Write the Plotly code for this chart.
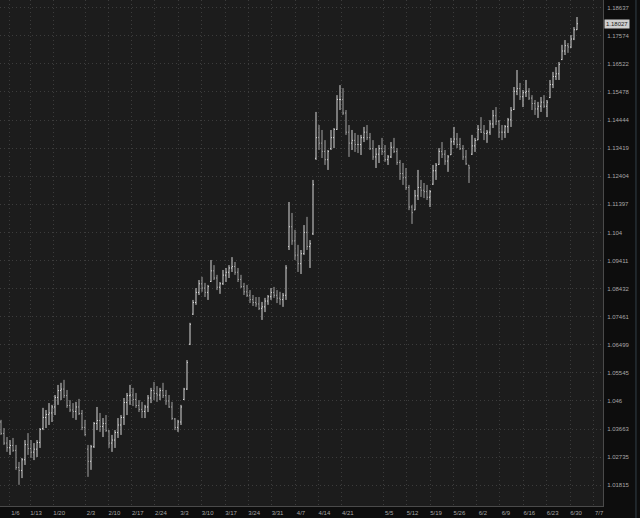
import math
import plotly.graph_objects as go

# ---- data (EUR/USD style OHLC bars) ----
opens = [1.0390,1.0352,1.0320,1.0305,1.0312,1.0296,1.0240,1.0230,1.0265,1.0315,
         1.0302,1.0290,1.0300,1.0322,1.0368,1.0405,1.0415,1.0420,1.0440,1.0472,
         1.0495,1.0500,1.0478,1.0445,1.0430,1.0425,1.0440,1.0418,1.0372,1.0300,
         1.0260,1.0308,1.0385,1.0395,1.0375,1.0385,1.0360,1.0320,1.0330,1.0355,
         1.0380,1.0405,1.0455,1.0478,1.0480,1.0465,1.0445,1.0432,1.0425,1.0440,
         1.0470,1.0495,1.0485,1.0480,1.0495,1.0478,1.0460,1.0440,1.0400,1.0372,
         1.0390,1.0465,1.0500,1.0652,1.0755,1.0795,1.0830,1.0860,1.0845,1.0830,
         1.0868,1.0905,1.0880,1.0848,1.0860,1.0890,1.0900,1.0915,1.0920,1.0900,
         1.0875,1.0850,1.0832,1.0820,1.0805,1.0795,1.0790,1.0775,1.0780,1.0800,
         1.0815,1.0830,1.0820,1.0810,1.0805,1.0820,1.0990,1.1060,1.1010,1.0960,
         1.0930,1.0965,1.1040,1.0990,1.1035,1.1305,1.1380,1.1360,1.1330,1.1300,
         1.1340,1.1380,1.1410,1.1520,1.1520,1.1470,1.1400,1.1360,1.1370,1.1355,
         1.1355,1.1380,1.1400,1.1380,1.1340,1.1310,1.1320,1.1340,1.1330,1.1300,
         1.1310,1.1345,1.1330,1.1290,1.1250,1.1235,1.1200,1.1130,1.1120,1.1170,
         1.1200,1.1190,1.1185,1.1165,1.1212,1.1260,1.1283,1.1330,1.1320,1.1295,
         1.1318,1.1365,1.1375,1.1355,1.1340,1.1310,1.1280,1.1320,1.1350,1.1372,
         1.1410,1.1400,1.1395,1.1400,1.1430,1.1460,1.1440,1.1400,1.1400,1.1420,
         1.1445,1.1483,1.1550,1.1560,1.1530,1.1545,1.1550,1.1525,1.1505,1.1485,
         1.1495,1.1510,1.1495,1.1527,1.1575,1.1605,1.1615,1.1668,1.1700,1.1720,
         1.1715,1.1745,1.1780]

highs = [1.0397,1.0370,1.0340,1.0330,1.0337,1.0314,1.0258,1.0271,1.0330,1.0353,
         1.0330,1.0320,1.0330,1.0370,1.0437,1.0430,1.0453,1.0447,1.0480,1.0514,
         1.0521,1.0531,1.0497,1.0463,1.0453,1.0457,1.0467,1.0430,1.0397,1.0314,
         1.0314,1.0390,1.0440,1.0420,1.0403,1.0413,1.0363,1.0347,1.0363,1.0403,
         1.0413,1.0470,1.0487,1.0514,1.0504,1.0487,1.0463,1.0457,1.0447,1.0480,
         1.0504,1.0524,1.0510,1.0504,1.0521,1.0497,1.0480,1.0457,1.0403,1.0397,
         1.0447,1.0504,1.0598,1.0725,1.0804,1.0845,1.0873,1.0884,1.0863,1.0856,
         1.0943,1.0925,1.0891,1.0866,1.0908,1.0915,1.0925,1.0953,1.0936,1.0915,
         1.0891,1.0863,1.0856,1.0838,1.0821,1.0814,1.0814,1.0797,1.0811,1.0821,
         1.0845,1.0849,1.0838,1.0832,1.0828,1.0925,1.1148,1.1109,1.1049,1.0996,
         1.0978,1.1066,1.1095,1.1013,1.1227,1.1474,1.1426,1.1408,1.1371,1.1335,
         1.1408,1.1415,1.1536,1.1573,1.1562,1.1481,1.1426,1.1408,1.1397,1.1390,
         1.1390,1.1419,1.1426,1.1397,1.1371,1.1342,1.1353,1.1379,1.1353,1.1317,
         1.1364,1.1379,1.1342,1.1299,1.1288,1.1270,1.1209,1.1137,1.1191,1.1263,
         1.1227,1.1216,1.1209,1.1191,1.1281,1.1288,1.1342,1.1364,1.1335,1.1317,
         1.1379,1.1419,1.1397,1.1379,1.1353,1.1335,1.1281,1.1390,1.1379,1.1426,
         1.1455,1.1426,1.1408,1.1444,1.1481,1.1492,1.1444,1.1426,1.1426,1.1452,
         1.1492,1.1566,1.1629,1.1581,1.1555,1.1592,1.1562,1.1536,1.1518,1.1511,
         1.1529,1.1536,1.1518,1.1592,1.1622,1.1640,1.1659,1.1723,1.1741,1.1730,
         1.1760,1.1790,1.1828]

lows = [1.0347,1.0314,1.0291,1.0281,1.0291,1.0232,1.0183,1.0205,1.0248,1.0281,
        1.0271,1.0264,1.0274,1.0304,1.0363,1.0370,1.0380,1.0390,1.0413,1.0447,
        1.0463,1.0470,1.0437,1.0423,1.0403,1.0397,1.0413,1.0363,1.0344,1.0209,
        1.0232,1.0304,1.0363,1.0357,1.0340,1.0357,1.0304,1.0291,1.0304,1.0337,
        1.0347,1.0380,1.0413,1.0447,1.0443,1.0437,1.0423,1.0403,1.0403,1.0423,
        1.0453,1.0463,1.0457,1.0463,1.0470,1.0447,1.0437,1.0397,1.0363,1.0357,
        1.0380,1.0463,1.0497,1.0649,1.0752,1.0787,1.0821,1.0832,1.0814,1.0804,
        1.0866,1.0873,1.0838,1.0825,1.0856,1.0866,1.0880,1.0901,1.0891,1.0866,
        1.0845,1.0821,1.0814,1.0793,1.0783,1.0780,1.0769,1.0735,1.0762,1.0787,
        1.0804,1.0811,1.0793,1.0787,1.0780,1.0804,1.0978,1.0996,1.0943,1.0901,
        1.0894,1.0961,1.0978,1.0915,1.1031,1.1299,1.1335,1.1306,1.1281,1.1263,
        1.1335,1.1342,1.1408,1.1481,1.1463,1.1390,1.1310,1.1335,1.1328,1.1324,
        1.1317,1.1364,1.1371,1.1335,1.1299,1.1270,1.1288,1.1317,1.1292,1.1281,
        1.1306,1.1324,1.1281,1.1227,1.1209,1.1191,1.1119,1.1070,1.1119,1.1155,
        1.1166,1.1162,1.1155,1.1130,1.1209,1.1227,1.1281,1.1306,1.1281,1.1256,
        1.1317,1.1353,1.1342,1.1335,1.1299,1.1281,1.1216,1.1317,1.1328,1.1371,
        1.1397,1.1371,1.1361,1.1390,1.1415,1.1426,1.1379,1.1371,1.1379,1.1397,
        1.1419,1.1481,1.1536,1.1518,1.1492,1.1529,1.1518,1.1481,1.1463,1.1452,
        1.1474,1.1489,1.1455,1.1525,1.1562,1.1592,1.1592,1.1666,1.1685,1.1693,
        1.1711,1.1741,1.1779]

closes = [1.0352,1.0320,1.0305,1.0312,1.0296,1.0240,1.0230,1.0265,1.0315,1.0302,
          1.0290,1.0300,1.0322,1.0365,1.0405,1.0415,1.0420,1.0440,1.0472,1.0495,
          1.0500,1.0478,1.0445,1.0430,1.0425,1.0440,1.0418,1.0372,1.0348,1.0260,
          1.0308,1.0385,1.0395,1.0375,1.0385,1.0362,1.0320,1.0330,1.0355,1.0380,
          1.0405,1.0455,1.0478,1.0480,1.0465,1.0445,1.0432,1.0425,1.0440,1.0470,
          1.0495,1.0485,1.0480,1.0495,1.0478,1.0460,1.0440,1.0402,1.0372,1.0390,
          1.0440,1.0500,1.0590,1.0720,1.0795,1.0830,1.0860,1.0845,1.0830,1.0850,
          1.0905,1.0880,1.0848,1.0860,1.0890,1.0900,1.0915,1.0920,1.0900,1.0875,
          1.0850,1.0832,1.0820,1.0805,1.0795,1.0790,1.0775,1.0780,1.0800,1.0815,
          1.0830,1.0820,1.0810,1.0805,1.0820,1.0915,1.1060,1.1010,1.0960,1.0930,
          1.0965,1.1040,1.0990,1.1000,1.1210,1.1380,1.1360,1.1330,1.1300,1.1330,
          1.1380,1.1410,1.1520,1.1520,1.1470,1.1400,1.1360,1.1370,1.1355,1.1355,
          1.1380,1.1400,1.1380,1.1340,1.1310,1.1320,1.1340,1.1330,1.1300,1.1310,
          1.1345,1.1330,1.1290,1.1250,1.1235,1.1200,1.1130,1.1110,1.1170,1.1200,
          1.1190,1.1185,1.1165,1.1185,1.1260,1.1280,1.1330,1.1320,1.1295,1.1310,
          1.1365,1.1375,1.1355,1.1340,1.1310,1.1285,1.1270,1.1350,1.1370,1.1410,
          1.1400,1.1395,1.1400,1.1430,1.1460,1.1440,1.1400,1.1400,1.1420,1.1445,
          1.1480,1.1550,1.1560,1.1530,1.1545,1.1550,1.1525,1.1505,1.1485,1.1495,
          1.1510,1.1495,1.1510,1.1575,1.1605,1.1615,1.1650,1.1700,1.1720,1.1715,
          1.1745,1.1780,1.18027]

bars = list(range(len(closes)))

week_labels = ["1/6", "1/13", "1/20", "2/3", "2/10", "2/17", "2/24", "3/3", "3/10",
               "3/17", "3/24", "3/31", "4/7", "4/14", "4/21", "5/5", "5/12", "5/19",
               "5/26", "6/2", "6/9", "6/16", "6/23", "6/30", "7/7"]
week_start_bar = [2.8, 9.7, 17.4, 28.0, 35.8, 43.6, 51.3, 59.1, 66.9, 74.7, 82.4,
                  90.2, 98.0, 105.8, 113.6, 127.4, 135.2, 143.0, 150.8, 158.6,
                  166.3, 174.1, 181.9, 189.7, 197.4]

price_ticks = [1.01815, 1.02735, 1.03663, 1.046, 1.05545, 1.06499, 1.07461, 1.08432,
               1.09411, 1.104, 1.11397, 1.12404, 1.13419, 1.14444, 1.15478, 1.16522,
               1.17574, 1.18637]
last_price = closes[-1]

# ---- figure ----
FONT = "Liberation Sans, Arial, sans-serif"
GRID_DASH = "1px,3px"
fig = go.Figure(go.Ohlc(
    x=bars, open=opens, high=highs, low=lows, close=closes,
    increasing=dict(line=dict(color="#d6d6d6", width=1)),
    decreasing=dict(line=dict(color="#a2a2a2", width=1)),
    tickwidth=0.33, hoverinfo="skip", showlegend=False,
))

fig.update_layout(
    width=640, height=518,
    margin=dict(l=0, r=37, t=0, b=12),
    paper_bgcolor="#0d0d0d", plot_bgcolor="#1c1c1c",
    font=dict(family=FONT, size=6, color="#a6a6a6"),
    showlegend=False,
)
fig.update_xaxes(
    range=[-0.333, 200.667], rangeslider_visible=False,
    tickmode="array", tickvals=week_start_bar, ticktext=week_labels,
    ticks="", ticklabelshift=6, ticklabelstandoff=1,
    showgrid=True, gridcolor="#3c3c3c", griddash=GRID_DASH, gridwidth=1,
    showline=True, linecolor="#4a4a4a", linewidth=1, zeroline=False,
    tickfont=dict(size=6, color="#a6a6a6"),
)
fig.update_yaxes(
    type="log", side="right", range=[0.004934, 0.075277],
    tickmode="array", tickvals=price_ticks,
    ticktext=[f"{v:g}" for v in price_ticks],
    ticks="", ticklabelstandoff=2,
    showgrid=True, gridcolor="#3c3c3c", griddash=GRID_DASH, gridwidth=1,
    showline=True, linecolor="#4a4a4a", linewidth=1, zeroline=False,
    tickfont=dict(size=6, color="#a6a6a6"),
)

# current price tag on the price axis
fig.add_annotation(
    xref="paper", x=1, xanchor="left", xshift=1,
    yref="y", y=math.log10(last_price), yanchor="middle",
    text=f"{last_price:.5f}", showarrow=False,
    font=dict(family=FONT, size=6, color="#1a1a1a"),
    bgcolor="#cfcfcf", borderpad=1,
)
# thin frame line at the far right edge of the panel
fig.add_shape(type="line", xref="paper", yref="paper",
              x0=1.0547, x1=1.0547, y0=-0.03, y1=1.0,
              line=dict(color="#34404a", width=1))

fig.write_html(
    "out.html",
    config={"displayModeBar": False},
    post_script="document.body.style.margin='0';document.body.style.background='#0d0d0d';",
)
